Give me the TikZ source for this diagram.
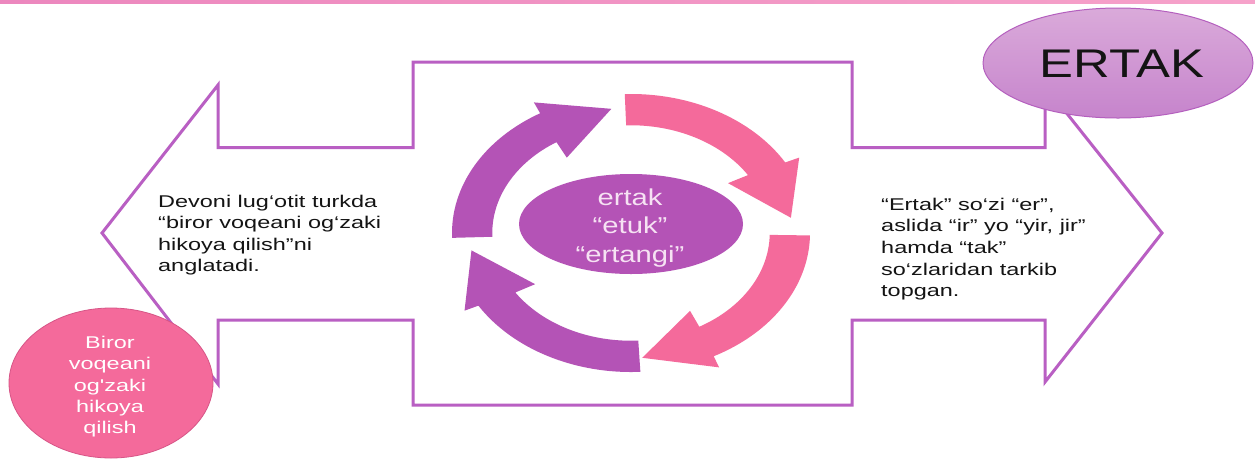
\documentclass[tikz,border=0pt]{standalone}
\usepackage{fontspec}
\setmainfont{Liberation Sans}
\newfontfamily\widefont[FakeStretch=1.38]{Liberation Sans}
\newfontfamily\widecfont[FakeStretch=1.27]{Liberation Sans}
\usetikzlibrary{shapes.geometric}
\definecolor{outl}{RGB}{185,95,195}
\definecolor{pinkA}{RGB}{244,106,155}
\definecolor{purA}{RGB}{180,83,182}
\definecolor{ertTop}{RGB}{218,170,218}
\definecolor{ertBot}{RGB}{198,132,204}
\definecolor{ertLine}{RGB}{180,95,190}
\definecolor{ctext}{RGB}{246,226,243}
\definecolor{barL}{RGB}{236,135,190}
\definecolor{barR}{RGB}{246,162,202}
\definecolor{pinkLine}{RGB}{215,85,135}
\begin{document}
\begin{tikzpicture}[x=1pt,y=-1pt,
  bigoutline/.style={draw=outl, line width=3pt, line join=miter, fill=white},
  smalltext/.style={inner sep=0pt, align=left, text=black!92, font=\widefont\fontsize{17}{21.6}\selectfont},
  circtext/.style={inner sep=0pt, align=center, text=white, font=\widefont\fontsize{17}{21.4}\selectfont},
  centertext/.style={inner sep=0pt, align=center, text=ctext, font=\widecfont\fontsize{23}{28.5}\selectfont},
  ellipsebox/.style={ellipse, inner sep=0pt}
]
\useasboundingbox (0,0) rectangle (1255,459);
\fill[white] (0,0) rectangle (1255,459);
\shade[left color=barL, right color=barR] (0,0) rectangle (1255,3.5);

% double arrow outline
\draw[bigoutline] (413,62) -- (852,62) -- (852,147.5) -- (1045,147.5) -- (1045,86)
  -- (1162,233) -- (1045,382) -- (1045,320) -- (852,320) -- (852,405)
  -- (413,405) -- (413,320) -- (218,320) -- (218,384) -- (102,233)
  -- (218,85) -- (218,147.5) -- (413,147.5) -- cycle;

% circular arrows
\begin{scope}[shift={(631,233)}, xscale=179, yscale=-139]
\foreach \s/\c in {92/pinkA, -1/pinkA, -87/purA, 182/purA} {
  \pgfmathsetmacro\oa{\s-61.5}
  \pgfmathsetmacro\ob{\s-62}
  \pgfmathsetmacro\tp{\s-85}
  \pgfmathsetmacro\ib{\s-58.5}
  \pgfmathsetmacro\ia{\s-59.5}
  \fill[\c] (\s:1) arc[start angle=\s, end angle=\oa, radius=1]
    -- (\ob:1.085) -- (\tp:0.9) -- (\ib:0.65) -- (\ia:0.775)
    arc[start angle=\ia, end angle=\s, radius=0.775] -- cycle;
}
\end{scope}

% ellipses
\node[ellipsebox, fill=purA, minimum width=224pt, minimum height=100pt] (center) at (631,224) {};
\node[ellipsebox, draw=ertLine, line width=1pt, top color=ertTop, bottom color=ertBot,
      minimum width=270pt, minimum height=110pt] (ertak) at (1118,63) {};
\node[ellipsebox, draw=pinkLine, line width=0.8pt, fill=pinkA,
      minimum width=204pt, minimum height=150pt] (biror) at (111,383) {};

% texts
\node[centertext, anchor=north] (centerlabel) at (630,188.5) {ertak\\“etuk”\\“ertangi”};
\node[inner sep=0pt, anchor=base, text=black!92, font=\widecfont\fontsize{40}{48}\selectfont] (ertaklabel) at (1122,77) {ERTAK};
\node[circtext, anchor=north] (birorlabel) at (110,335.8) {Biror\\voqeani\\og'zaki\\hikoya\\qilish};
\node[smalltext, anchor=north west] (lefttext) at (158,194.6)
  {Devoni lug‘otit turkda\\“biror voqeani og‘zaki\\hikoya qilish”ni\\anglatadi.};
\node[smalltext, anchor=north west] (righttext) at (881,197.7)
  {“Ertak” so‘zi “er”,\\aslida “ir” yo “yir, jir”\\hamda “tak”\\so‘zlaridan tarkib\\topgan.};
\end{tikzpicture}
\end{document}
